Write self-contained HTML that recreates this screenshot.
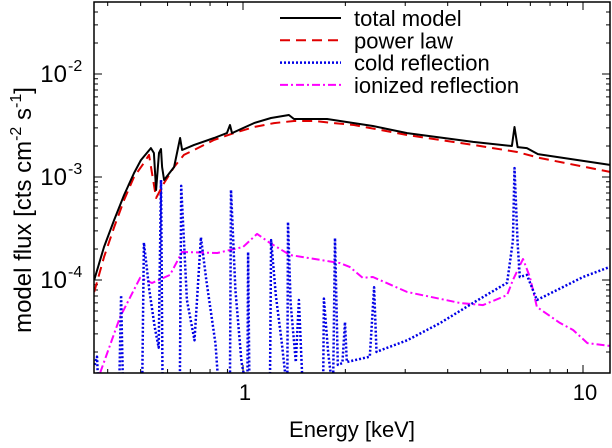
<!DOCTYPE html>
<html><head><meta charset="utf-8"><style>
body{margin:0;background:#fff;width:612px;height:443px;overflow:hidden;font-family:"Liberation Sans",sans-serif}
svg text{font-family:"Liberation Sans",sans-serif;fill:#000}
</style></head><body>
<svg id="chart" width="612" height="443" viewBox="0 0 612 443" xmlns="http://www.w3.org/2000/svg">
<defs><clipPath id="pc"><rect x="94" y="2" width="516" height="371"/></clipPath></defs>
<g id="ticks"></g>
<g id="series" clip-path="url(#pc)"></g>
<rect x="94" y="2" width="516" height="371" fill="none" stroke="#000" stroke-width="1.5"/>
<g id="ylabels"></g>
<g id="xlabels"></g>
<text x="352" y="437" font-size="22" text-anchor="middle">Energy [keV]</text>
<text transform="translate(31,210) rotate(-90)" font-size="24" text-anchor="middle">model flux [cts cm<tspan font-size="16" dy="-10">-2</tspan><tspan dy="10"> s</tspan><tspan font-size="16" dy="-10">-1</tspan><tspan dy="10">]</tspan></text>
<g id="legend"></g>
</svg>
<script>
const xTicks=[1,10];
const xTickLabels=["1","10"];
const yTicks=[1e-2,1e-3,1e-4];
const yTickLabels=["-2","-3","-4"];
const totalE=[0.365,0.390,0.418,0.447,0.478,0.501,0.536,0.547,0.555,0.566,0.574,0.578,0.586,0.627,0.653,0.662,0.718,0.822,0.897,0.916,0.928,1.077,1.209,1.365,1.413,1.767,2.12,2.41,3.04,4.75,6.18,6.29,6.42,6.84,7.37,12.0];
const totalF=[1.0e-4,2.09e-4,3.83e-4,6.68e-4,1.09e-3,1.46e-3,1.91e-3,1.71e-3,7.48e-4,1.71e-3,1.87e-3,1.25e-3,9.35e-4,1.25e-3,2.39e-3,1.83e-3,2.05e-3,2.39e-3,2.67e-3,3.20e-3,2.67e-3,3.34e-3,3.74e-3,4.0e-3,3.66e-3,3.66e-3,3.34e-3,3.13e-3,2.67e-3,2.19e-3,2.0e-3,3.06e-3,1.95e-3,1.91e-3,1.67e-3,1.31e-3];
const powE=[0.365,0.390,0.418,0.447,0.478,0.511,0.529,0.555,0.586,0.627,0.670,0.718,0.822,0.941,1.077,1.234,1.413,1.618,1.853,2.12,3.04,4.75,6.40,7.47,12.0];
const powF=[7.64e-5,1.67e-4,3.27e-4,5.98e-4,1.0e-3,1.37e-3,1.64e-3,6.25e-4,8.75e-4,1.25e-3,1.64e-3,1.83e-3,2.29e-3,2.67e-3,3.06e-3,3.34e-3,3.50e-3,3.50e-3,3.34e-3,3.20e-3,2.56e-3,2.05e-3,1.75e-3,1.53e-3,1.12e-3];
const coldE=[0.366,0.372,0.376,0.432,0.438,0.444,0.505,0.511,0.53,0.55,0.565,0.574,0.58,0.652,0.658,0.684,0.72,0.752,0.78,0.83,0.85,0.915,0.922,0.95,0.99,1.03,1.035,1.045,1.2,1.21,1.25,1.3,1.35,1.356,1.38,1.43,1.46,1.5,1.72,1.73,1.78,1.84,1.865,1.9,1.96,1.995,2.02,2.36,2.43,2.47,2.56,3.04,3.79,4.75,5.98,6.22,6.29,6.42,6.52,6.84,7.32,8.39,10,12];
const coldF=[1.5e-5,1.8e-5,8e-6,8e-6,7.1e-5,8e-6,8e-6,2.3e-4,8e-5,3.5e-5,2.2e-5,9.35e-4,8e-6,8e-6,8.2e-4,6.4e-5,2.6e-5,2.6e-4,1e-4,2.4e-5,8e-6,8e-6,7.5e-4,8e-5,1.6e-5,8e-6,1.87e-4,8e-6,8e-6,2.44e-4,7e-5,2.5e-5,8e-6,3.66e-4,6e-5,1.6e-5,6.4e-5,8e-6,8e-6,6.6e-5,2.0e-5,8e-6,2.56e-4,1.5e-5,1.56e-5,3.9e-5,1.6e-5,1.8e-5,8.5e-5,2.0e-5,2.1e-5,2.6e-5,3.8e-5,6e-5,9.4e-5,2.4e-4,1.22e-3,2.3e-4,1.07e-4,1.12e-4,6.4e-5,8e-5,1.07e-4,1.34e-4];
const ionE=[0.380,0.435,0.498,0.540,0.610,0.662,0.840,1.0,1.10,1.20,1.375,1.93,2.06,2.25,2.41,3.04,4.35,5.08,5.98,6.22,6.66,6.98,7.32,8.55,9.35,10.3,12.0];
const ionF=[1.25e-5,4.37e-5,1.05e-4,9.35e-5,1.12e-4,1.87e-4,1.83e-4,2.09e-4,2.80e-4,2.29e-4,1.75e-4,1.46e-4,1.34e-4,1.05e-4,1.07e-4,7.64e-5,5.98e-5,5.71e-5,7.14e-5,1.0e-4,1.60e-4,1.07e-4,5.47e-5,3.83e-5,3.27e-5,2.44e-5,2.29e-5];

const X0=94,X1=610,Y0=2,Y1=373;
const x1px=243,xDec=340,y3px=177,yDec=103;
function xs(e){return x1px+Math.log10(e)*xDec;}
function ys(f){return y3px-(Math.log10(f)+3)*yDec;}
const NS="http://www.w3.org/2000/svg";
function mk(tag,attrs,parent){const el=document.createElementNS(NS,tag);for(const k in attrs)el.setAttribute(k,attrs[k]);parent.appendChild(el);return el;}

const tg=document.getElementById('ticks');
let td="";
for(let d=-1;d<=1;d++){for(let m=1;m<10;m++){const e=m*Math.pow(10,d);const x=xs(e);if(x<X0||x>X1)continue;const L=m===1?8:4;td+=`M${x},${Y1}v${-L}M${x},${Y0}v${L}`;}}
for(let d=-6;d<=-1;d++){for(let m=1;m<10;m++){const f=m*Math.pow(10,d);const y=ys(f);if(y<Y0||y>Y1)continue;const L=m===1?8:4;td+=`M${X0},${y}h${L}M${X1},${y}h${-L}`;}}
const tp=mk('path',{d:td,stroke:'#000','stroke-width':1,fill:'none'},tg);



const xl=document.getElementById('xlabels');
xTicks.forEach((v,i)=>{const t=mk('text',{x:xs(v)+2,y:400,'font-size':22,'text-anchor':'middle'},xl);t.textContent=xTickLabels[i];

});
const yl=document.getElementById('ylabels');
yTicks.forEach((v,i)=>{const t=mk('text',{x:67,y:ys(v)+8,'font-size':24,'text-anchor':'end'},yl);t.textContent='10';


const s=mk('text',{x:68,y:ys(v)-3,'font-size':16},yl);s.textContent=yTickLabels[i];

});

const sg=document.getElementById('series');
const styles={
 total:{stroke:'#000','stroke-width':2,dash:''},
 pow:{stroke:'#e00000','stroke-width':2,dash:'10,6'},
 cold:{stroke:'#0000e6','stroke-width':2.5,dash:'2,2'},
 ion:{stroke:'#ff00ff','stroke-width':2,dash:'8,3,2,3'}
};
function line(E,F,st,name){let d="";E.forEach((e,i)=>{d+=(i?'L':'M')+xs(e).toFixed(1)+','+ys(F[i]).toFixed(1);});
const p=mk('path',{d:d,fill:'none',stroke:st.stroke,'stroke-width':st['stroke-width'],'stroke-dasharray':st.dash,'stroke-linejoin':'round'},sg);

}
line(ionE,ionF,styles.ion,'ionized-reflection-line');
line(coldE,coldF,styles.cold,'cold-reflection-line');
line(powE,powF,styles.pow,'power-law-line');
line(totalE,totalF,styles.total,'total-model-line');

const lg=document.getElementById('legend');
const items=[["total model",styles.total],["power law",styles.pow],["cold reflection",styles.cold],["ionized reflection",styles.ion]];
items.forEach((it,i)=>{const y=18+i*22.3;
const l=mk('line',{x1:280,x2:341,y1:y,y2:y,stroke:it[1].stroke,'stroke-width':it[1]['stroke-width'],'stroke-dasharray':it[1].dash},lg);


const t=mk('text',{x:354,y:y+8,'font-size':22},lg);t.textContent=it[0];

});
</script>
</body></html>
